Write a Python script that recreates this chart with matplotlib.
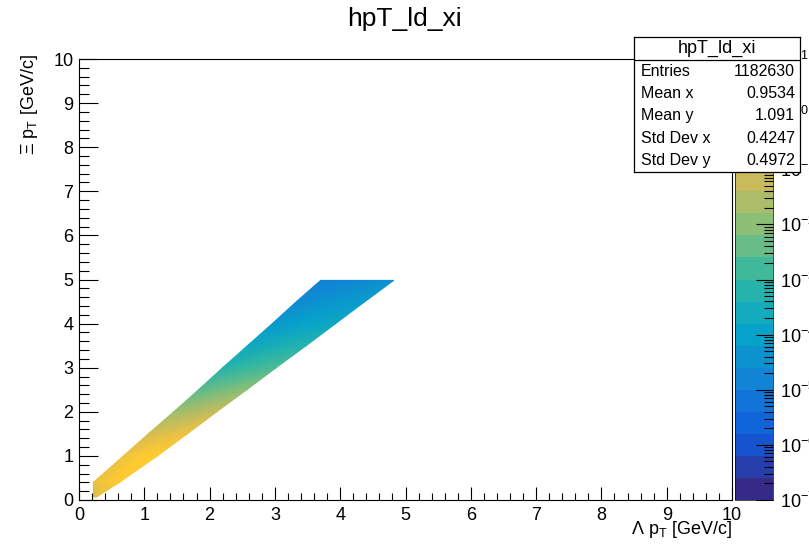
import numpy as np
import matplotlib
matplotlib.use("Agg")
import matplotlib.pyplot as plt
from matplotlib.colors import LinearSegmentedColormap, ListedColormap, LogNorm
from matplotlib.ticker import MultipleLocator, LogLocator, NullFormatter
import matplotlib.cm as cm

plt.rcParams['font.family'] = ['Liberation Sans', 'DejaVu Sans']
plt.rcParams['mathtext.fontset'] = 'custom'
plt.rcParams['mathtext.rm'] = 'Liberation Sans'
plt.rcParams['mathtext.it'] = 'Liberation Sans:italic'

# --- data ---
# band rows: Xi pT, with Lambda pT at upper-left and lower-right edge
xi_pt = [0.07, 0.40, 1.0, 1.5, 2.0, 2.5, 3.0, 3.5, 4.0, 4.5, 4.98]
lam_lo = [0.22, 0.22, 0.68, 1.06, 1.45, 1.83, 2.20, 2.58, 2.96, 3.33, 3.70]
lam_hi = [0.27, 0.62, 1.20, 1.66, 2.11, 2.57, 3.02, 3.48, 3.93, 4.38, 4.82]
# log10 of bin content along upper edge / centre / lower edge
dens_upper = [-0.9, -0.5, -0.4, -0.9, -1.7, -2.5, -3.2, -3.8, -4.3, -4.7, -5.0]
dens_center = [-0.7, -0.1, 0.0, -0.6, -1.4, -2.2, -2.9, -3.5, -4.0, -4.4, -4.8]
dens_lower = [-0.7, 0.0, 0.05, -0.35, -1.1, -1.9, -2.6, -3.2, -3.8, -4.2, -4.5]

stat_names = ["Entries", "Mean x", "Mean y", "Std Dev x", "Std Dev y"]
stat_values = ["1182630", "0.9534", "1.091", "0.4247", "0.4972"]
hist_name = "hpT_ld_xi"

z_min, z_max = 1e-7, 1e1
n_contours = 20

# ROOT kBird palette
stops = [0.0, 0.125, 0.25, 0.375, 0.5, 0.625, 0.75, 0.875, 1.0]
red = [0.2082, 0.0592, 0.0780, 0.0232, 0.1802, 0.5301, 0.8186, 0.9956, 0.9764]
green = [0.1664, 0.3599, 0.5041, 0.6419, 0.7178, 0.7492, 0.7328, 0.7862, 0.9832]
blue = [0.5293, 0.8684, 0.8385, 0.7914, 0.6425, 0.4662, 0.3499, 0.1968, 0.0539]
bird = LinearSegmentedColormap.from_list(
    "bird", list(zip(stops, zip(red, green, blue))), N=256)
bird_steps = ListedColormap(bird(np.linspace(0, 1, n_contours)))

W, H = 809, 548
fig = plt.figure(figsize=(W / 100, H / 100), dpi=100)

# frame in pixels
x0, x1, y0, y1 = 79, 732, 59, 500
ax = fig.add_axes([x0 / W, 1 - y1 / H, (x1 - x0) / W, (y1 - y0) / H])

lo = np.array(lam_lo)
hi = np.array(lam_hi)
X = np.column_stack([lo, (lo + hi) / 2, hi])
Y = np.column_stack([xi_pt, xi_pt, xi_pt])
C = 10 ** np.column_stack([dens_upper, dens_center, dens_lower])
norm = LogNorm(vmin=z_min, vmax=z_max)
ax.pcolormesh(X, Y, C, shading='gouraud', cmap=bird, norm=norm)

ax.set_xlim(0, 10)
ax.set_ylim(0, 10)
ax.xaxis.set_major_locator(MultipleLocator(1))
ax.xaxis.set_minor_locator(MultipleLocator(0.2))
ax.yaxis.set_major_locator(MultipleLocator(1))
ax.yaxis.set_minor_locator(MultipleLocator(0.2))
ax.tick_params(axis='x', which='major', direction='in', length=9.4, width=0.8, labelsize=13, pad=5)
ax.tick_params(axis='x', which='minor', direction='in', length=4.7, width=0.8)
ax.tick_params(axis='y', which='major', direction='in', length=14, width=0.8, labelsize=13, pad=4)
ax.tick_params(axis='y', which='minor', direction='in', length=7, width=0.8)
for s in ax.spines.values():
    s.set_linewidth(0.8)

fig.text(x1 / W, 1 - 530 / H, r"Λ p$_\mathrm{T}$ [GeV/c]", ha='right', va='center', fontsize=13)
fig.text(30 / W, 1 - 54 / H, r"Ξ p$_\mathrm{T}$ [GeV/c]", ha='center', va='top',
         rotation=90, fontsize=13)
fig.text(0.5, 1 - 19 / H, hist_name, ha='center', va='center', fontsize=19)

# palette
cax = fig.add_axes([735 / W, 1 - y1 / H, 38 / W, (y1 - y0) / H])
sm = cm.ScalarMappable(norm=norm, cmap=bird_steps)
cb = fig.colorbar(sm, cax=cax)
cb.outline.set_linewidth(0.5)
cax.yaxis.set_major_locator(LogLocator(base=10, numticks=20))
cax.yaxis.set_minor_locator(LogLocator(base=10, subs=np.arange(2, 10), numticks=20))
cax.yaxis.set_minor_formatter(NullFormatter())
cax.tick_params(which='major', direction='in', length=12, width=0.8, labelsize=13, pad=5)
cax.tick_params(which='minor', direction='in', length=6.5, width=0.8)

# stats box
sx0, sx1, sy0, sy1 = 634, 800, 37, 172
sax = fig.add_axes([sx0 / W, 1 - sy1 / H, (sx1 - sx0) / W, (sy1 - sy0) / H])
sax.set_xlim(0, sx1 - sx0)
sax.set_ylim(sy1, sy0)
sax.set_xticks([])
sax.set_yticks([])
sax.set_facecolor('white')
for s in sax.spines.values():
    s.set_linewidth(0.9)
sep = 60
sax.axhline(sep, color='black', lw=0.9)
sax.text((sx1 - sx0) / 2, (sy0 + sep) / 2, hist_name, ha='center', va='center', fontsize=13)
row_h = (sy1 - sep) / len(stat_names)
for i, (name, val) in enumerate(zip(stat_names, stat_values)):
    yy = sep + row_h * (i + 0.5)
    sax.text(7, yy, name, ha='left', va='center', fontsize=11.5)
    sax.text(sx1 - sx0 - 5, yy, val, ha='right', va='center', fontsize=11.5)

fig.savefig("out.png", dpi=100)
